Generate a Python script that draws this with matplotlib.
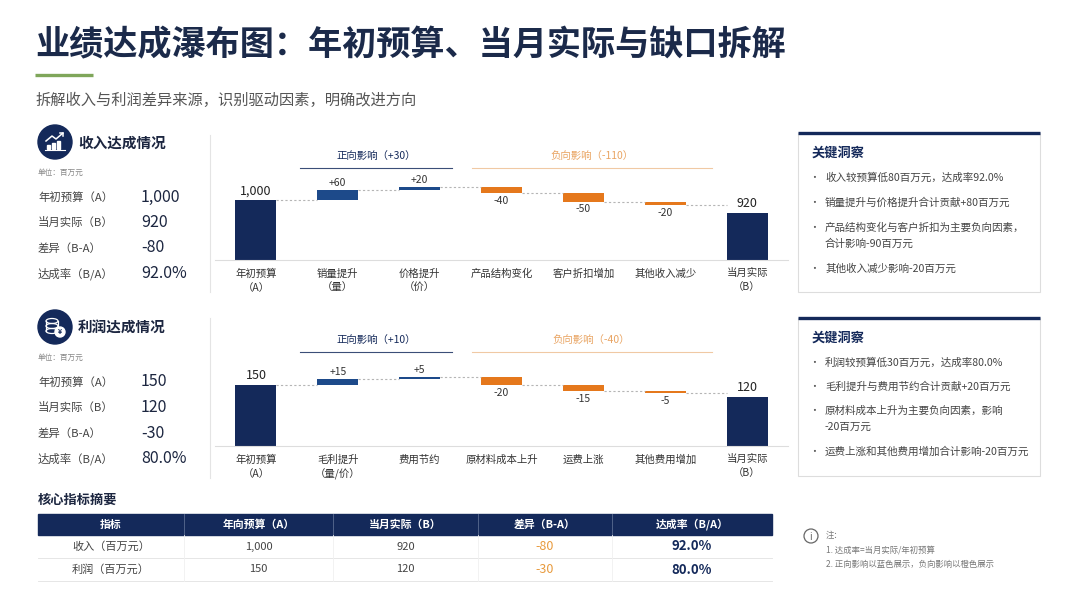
import matplotlib
matplotlib.use('Agg')
import matplotlib.pyplot as plt
from matplotlib.patches import Rectangle, Circle, Ellipse
import numpy as np

plt.rcParams['font.family'] = ['Noto Sans CJK SC', 'DejaVu Sans']

NAVY = '#14295a'
BLUE = '#1d4a8a'
ORANGE = '#e5781c'
LORANGE = '#e9a462'
TXT = '#1c2640'
GRAY = '#555555'

# ---- data ----
rev_cats = ['年初预算\n（A）', '销量提升\n（量）', '价格提升\n（价）', '产品结构变化',
            '客户折扣增加', '其他收入减少', '当月实际\n（B）']
rev_budget = 1000
rev_actual = 920
rev_steps = [60, 20, -40, -50, -20]
rev_pos_total = 30
rev_neg_total = -110

prof_cats = ['年初预算\n（A）', '毛利提升\n（量/价）', '费用节约', '原材料成本上升',
             '运费上涨', '其他费用增加', '当月实际\n（B）']
prof_budget = 150
prof_actual = 120
prof_steps = [15, 5, -20, -15, -5]
prof_pos_total = 10
prof_neg_total = -40

rev_insights = ['收入较预算低80百万元，达成率92.0%',
                '销量提升与价格提升合计贡献+80百万元',
                '产品结构变化与客户折扣为主要负向因素，\n合计影响-90百万元',
                '其他收入减少影响-20百万元']
prof_insights = ['利润较预算低30百万元，达成率80.0%',
                 '毛利提升与费用节约合计贡献+20百万元',
                 '原材料成本上升为主要负向因素，影响\n-20百万元',
                 '运费上涨和其他费用增加合计影响-20百万元']

tbl_head = ['指标', '年向预算（A）', '当月实际（B）', '差异（B-A）', '达成率（B/A）']
tbl_rows = ['收入（百万元）', '利润（百万元）']
tbl_budget = [rev_budget, prof_budget]
tbl_actual = [rev_actual, prof_actual]

notes = ['1. 达成率=当月实际/年初预算', '2. 正向影响以蓝色展示，负向影响以橙色展示']

W, H = 1080, 608
fig = plt.figure(figsize=(10.8, 6.08), dpi=100)
fig.patch.set_facecolor('white')
bg = fig.add_axes([0, 0, 1, 1])
bg.set_xlim(0, W); bg.set_ylim(H, 0); bg.axis('off')

def px_rect(l, t, r, b):
    return [l / W, (H - b) / H, (r - l) / W, (b - t) / H]

# ---- header ----
bg.text(35, 45, '业绩达成瀑布图：年初预算、当月实际与缺口拆解', fontsize=24.6,
        fontweight='bold', color='#1b2a4a', va='center', ha='left')
bg.plot([35, 93], [75, 75], color='#7fa65a', lw=2.4, solid_capstyle='butt')
bg.text(35, 100, '拆解收入与利润差异来源，识别驱动因素，明确改进方向', fontsize=11,
        color='#555555', va='center')

# ---- left KPI panels ----
def icon_rev(cx, cy):
    bg.add_patch(Circle((cx, cy), 17, color=NAVY))
    for i, h in enumerate([4, 6, 8]):
        bg.add_patch(Rectangle((cx - 8 + i * 5, cy + 7 - h), 3, h, color='white'))
    bg.plot([cx - 9, cx - 3, cx + 1, cx + 8], [cy - 1, cy - 6, cy - 3, cy - 9],
            color='white', lw=1.1)
    bg.plot([cx + 5, cx + 8, cx + 8], [cy - 9, cy - 9, cy - 6], color='white', lw=1.1)
    bg.plot([cx - 10, cx + 10], [cy + 7.5, cy + 7.5], color='white', lw=0.8)

def icon_prof(cx, cy):
    bg.add_patch(Circle((cx, cy), 17, color=NAVY))
    for dy in [-6, -1, 4]:
        bg.add_patch(Ellipse((cx - 3, cy + dy), 12, 5, fill=False, ec='white', lw=0.9))
    bg.plot([cx - 9, cx - 9], [cy - 6, cy + 4], color='white', lw=0.9)
    bg.plot([cx + 3, cx + 3], [cy - 6, cy + 4], color='white', lw=0.9)
    bg.add_patch(Circle((cx + 5, cy + 5), 5, color='white'))
    bg.text(cx + 5, cy + 5, '¥', fontsize=5, color=NAVY, ha='center', va='center',
            fontweight='bold')

def kpi_panel(top, title, budget, actual, icon):
    icon(55, top + 10)
    bg.text(78, top + 11, title, fontsize=10.5, fontweight='bold', color=TXT, va='center')
    bg.text(38, top + 41, '单位：百万元', fontsize=5.5, color='#888888', va='center')
    labels = ['年初预算（A）', '当月实际（B）', '差异（B-A）', '达成率（B/A）']
    vals = [f'{budget:,}', f'{actual:,}', f'{actual - budget:,}',
            f'{actual / budget * 100:.1f}%']
    for i, (lb, v) in enumerate(zip(labels, vals)):
        y = top + 65 + i * 25.5
        bg.text(38, y, lb, fontsize=8.2, color='#444444', va='center')
        bg.text(141, y, v, fontsize=11.5, color=TXT, va='center')

kpi_panel(132, '收入达成情况', rev_budget, rev_actual, icon_rev)
kpi_panel(317, '利润达成情况', prof_budget, prof_actual, icon_prof)
bg.plot([210, 210], [135, 292], color='#e4e4e4', lw=0.8)
bg.plot([210, 210], [318, 478], color='#e4e4e4', lw=0.8)

# ---- waterfalls ----
def waterfall(rect, cats, start, end, steps, ylim, pos_total, neg_total, ytxt, yline):
    ax = fig.add_axes(rect)
    ax.patch.set_alpha(0)
    n = len(cats)
    w = 0.5
    ax.set_xlim(-0.5, n - 0.5)
    ax.set_ylim(*ylim)
    ax.bar(0, start - ylim[0], bottom=ylim[0], width=w, color=NAVY)
    ax.bar(n - 1, end - ylim[0], bottom=ylim[0], width=w, color=NAVY)
    ax.annotate(f'{start:,}', (0, start), xytext=(0, 2), textcoords='offset points',
                ha='center', va='bottom', fontsize=9, color='#222222')
    ax.annotate(f'{end:,}', (n - 1, end), xytext=(0, 2), textcoords='offset points',
                ha='center', va='bottom', fontsize=9, color='#222222')
    dash = dict(color='#b5b5b5', lw=0.8, ls=(0, (2, 2)))
    level = start
    for i, d in enumerate(steps, start=1):
        col = BLUE if d > 0 else ORANGE
        ax.plot([i - 1 + w / 2, i - w / 2], [level, level], **dash)
        ax.bar(i, d, bottom=level, width=w, color=col)
        level += d
        if d > 0:
            ax.annotate(f'+{d}', (i, level), xytext=(0, 1.5), textcoords='offset points',
                        ha='center', va='bottom', fontsize=7.5, color='#333333')
        else:
            ax.annotate(f'{d}', (i, level), xytext=(0, -2), textcoords='offset points',
                        ha='center', va='top', fontsize=7.5, color='#333333')
    ax.plot([n - 2 + w / 2, n - 1 - w / 2], [level, level], **dash)

    tr = ax.get_xaxis_transform()
    ax.text(1.47, ytxt, f'正向影响（+{pos_total}）', transform=tr, ha='center',
            va='center', fontsize=7.5, color=NAVY)
    ax.plot([0.54, 2.4], [yline, yline], transform=tr, color='#3b4e78', lw=0.8,
            clip_on=False)
    ax.text(4.1, ytxt, f'负向影响（{neg_total}）', transform=tr, ha='center',
            va='center', fontsize=7.5, color=LORANGE)
    ax.plot([2.64, 5.57], [yline, yline], transform=tr, color='#f0c9a4', lw=0.8,
            clip_on=False)

    ax.set_xticks(range(n))
    ax.set_xticklabels(cats, fontsize=7.5, color='#333333', linespacing=1.5, va='top')
    ax.tick_params(axis='x', length=0, pad=6)
    ax.set_yticks([])
    for s in ['top', 'left', 'right']:
        ax.spines[s].set_visible(False)
    ax.spines['bottom'].set_color('#dddddd')
    ax.spines['bottom'].set_linewidth(0.8)
    return ax

waterfall(px_rect(215, 145, 788, 260), rev_cats, rev_budget, rev_actual, rev_steps,
          (631, 1338), rev_pos_total, rev_neg_total, 0.904, 0.80)
waterfall(px_rect(215, 330, 788, 446), prof_cats, prof_budget, prof_actual, prof_steps,
          (0, 285), prof_pos_total, prof_neg_total, 0.914, 0.81)

# ---- insight boxes ----
def insight_box(top, bottom, items, ys):
    bg.add_patch(Rectangle((798, top), 242, bottom - top, fc='white', ec='#dddddd', lw=0.8))
    bg.plot([798, 1040], [top, top], color=NAVY, lw=2.4, solid_capstyle='butt')
    bg.text(812, top + 20, '关键洞察', fontsize=9.5, fontweight='bold', color=NAVY,
            va='center')
    for it, y in zip(items, ys):
        bg.text(814, y, '•', fontsize=7, color='#555555', va='center', ha='center')
        for k, line in enumerate(it.split('\n')):
            bg.text(825, y + k * 16, line, fontsize=7.6, color='#444444', va='center')

insight_box(133, 292, rev_insights, [178, 203, 228, 269])
insight_box(318, 476, prof_insights, [363, 387, 411, 452])

# ---- summary table ----
bg.text(38, 500, '核心指标摘要', fontsize=9.5, fontweight='bold', color=TXT, va='center')
cols = [38, 184, 333, 478, 612, 772]
bg.add_patch(Rectangle((38, 514), 772 - 38, 21, color=NAVY))
for j, h in enumerate(tbl_head):
    cx = (cols[j] + cols[j + 1]) / 2
    bg.text(cx, 524.5, h, fontsize=7.8, color='white', ha='center', va='center',
            fontweight='bold')
    if j > 0:
        bg.plot([cols[j], cols[j]], [514, 535], color='#5a6b90', lw=0.6)
row_y = [535, 558, 581]
for i, name in enumerate(tbl_rows):
    yc = (row_y[i] + row_y[i + 1]) / 2
    diff = tbl_actual[i] - tbl_budget[i]
    rate = tbl_actual[i] / tbl_budget[i] * 100
    vals = [name, f'{tbl_budget[i]:,}', f'{tbl_actual[i]:,}', f'{diff}', f'{rate:.1f}%']
    for j, v in enumerate(vals):
        cx = (cols[j] + cols[j + 1]) / 2
        kw = dict(fontsize=8, color='#444444')
        if j == 3:
            kw = dict(fontsize=9, color='#e89a3c')
        elif j == 4:
            kw = dict(fontsize=9.5, color=NAVY, fontweight='bold')
        bg.text(cx, yc, v, ha='center', va='center', **kw)
    bg.plot([38, 772], [row_y[i + 1], row_y[i + 1]], color='#e6e6e6', lw=0.7)
for c in cols[1:-1]:
    bg.plot([c, c], [535, 581], color='#f0f0f0', lw=0.6)

# ---- notes ----
bg.add_patch(Circle((811, 536), 7, fill=False, ec='#666666', lw=0.9))
bg.text(811, 536.5, 'i', fontsize=7, color='#666666', ha='center', va='center')
bg.text(826, 536, '注：', fontsize=6, color='#777777', va='center')
for k, nt in enumerate(notes):
    bg.text(826, 550 + k * 14, nt, fontsize=6, color='#777777', va='center')

fig.savefig('out.png', dpi=100, facecolor='white')
